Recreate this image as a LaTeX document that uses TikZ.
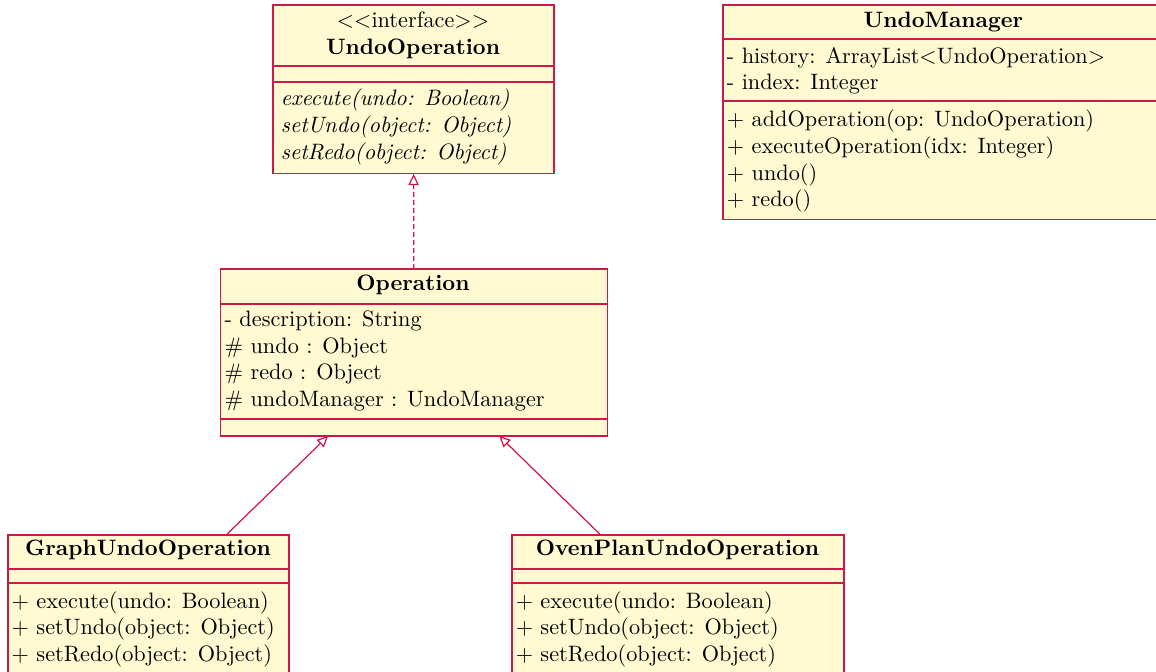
\documentclass[tikz,border=0pt]{standalone}
\usetikzlibrary{arrows.meta}
\definecolor{umlline}{RGB}{206,24,74}
\definecolor{umlfill}{RGB}{255,250,210}
\def\upx{0.449pt}
\begin{document}
\begin{tikzpicture}[x=0.449pt,y=-0.449pt,
  classbox/.style={fill=umlfill,inner sep=0pt,anchor=north west},
  outline/.style={draw=umlline,line width=0.55pt},
  sep/.style={draw=umlline,line width=0.55pt},
  ctitle/.style={anchor=base,inner sep=0pt,font=\bfseries},
  stereo/.style={anchor=base,inner sep=0pt},
  item/.style={anchor=base west,inner sep=0pt},
  aitem/.style={anchor=base west,inner sep=0pt,font=\itshape},
  opentip/.style={-{Triangle[open,length=5pt,width=4.6pt,fill=white]}},
  realize/.style={draw=umlline,line width=0.55pt,dash pattern=on 2.2pt off 1.4pt,opentip},
  inherit/.style={draw=umlline,line width=0.55pt,opentip}]
\useasboundingbox (0,0) rectangle (1156,672);
\clip (0,0) rectangle (1156,672);

% ---- class boxes ----
\node[classbox,minimum width=280*\upx,minimum height=168*\upx] (iface) at (273,5) {};
\node[classbox,minimum width=386*\upx,minimum height=166*\upx] (oper) at (220.5,269) {};
\node[classbox,minimum width=441*\upx,minimum height=214*\upx] (mgr) at (723,5) {};
\node[classbox,minimum width=280*\upx,minimum height=150*\upx] (graph) at (8,535) {};
\node[classbox,minimum width=331*\upx,minimum height=150*\upx] (oven) at (512,535) {};

% ---- outlines and compartment separators ----
\foreach \n/\a/\b in {iface/66/82, oper/304/419, mgr/39/101, graph/569/583, oven/569/583}{
  \draw[outline] (\n.north west) rectangle (\n.south east);
  \draw[sep] (\n.west |- 0,\a) -- (\n.east |- 0,\a);
  \draw[sep] (\n.west |- 0,\b) -- (\n.east |- 0,\b);
}

% ---- UndoOperation (interface) ----
\node[stereo] (iface-st) at (413,28) {$<<$interface$>>$};
\node[ctitle] (iface-t) at (413,55) {UndoOperation};
\node[aitem] (iface-m1) at (280.5,106) {execute(undo: Boolean)};
\node[aitem] (iface-m2) at (280.5,132.7) {setUndo(object: Object)};
\node[aitem] (iface-m3) at (280.5,159.4) {setRedo(object: Object)};

% ---- Operation ----
\node[ctitle] (oper-t) at (413,291) {Operation};
\node[item] (oper-a1) at (224.2,326.7) {- description: String};
\node[item] (oper-a2) at (224.2,353.4) {\# undo : Object};
\node[item] (oper-a3) at (224.2,380) {\# redo : Object};
\node[item] (oper-a4) at (224.2,406.7) {\# undoManager : UndoManager};

% ---- UndoManager ----
\node[ctitle] (mgr-t) at (943.5,28) {UndoManager};
\node[item] (mgr-a1) at (726.5,63.5) {- history: ArrayList$<$UndoOperation$>$};
\node[item] (mgr-a2) at (726.5,90) {- index: Integer};
\node[item] (mgr-m1) at (726.5,127) {+ addOperation(op: UndoOperation)};
\node[item] (mgr-m2) at (726.5,153.7) {+ executeOperation(idx: Integer)};
\node[item] (mgr-m3) at (726.5,180.4) {+ undo()};
\node[item] (mgr-m4) at (726.5,207) {+ redo()};

% ---- GraphUndoOperation ----
\node[ctitle] (graph-t) at (148,556) {GraphUndoOperation};
\node[item] (graph-m1) at (11.3,608) {+ execute(undo: Boolean)};
\node[item] (graph-m2) at (11.3,634.7) {+ setUndo(object: Object)};
\node[item] (graph-m3) at (11.3,661.4) {+ setRedo(object: Object)};

% ---- OvenPlanUndoOperation ----
\node[ctitle] (oven-t) at (677.5,556) {OvenPlanUndoOperation};
\node[item] (oven-m1) at (515.3,608) {+ execute(undo: Boolean)};
\node[item] (oven-m2) at (515.3,634.7) {+ setUndo(object: Object)};
\node[item] (oven-m3) at (515.3,661.4) {+ setRedo(object: Object)};

% ---- relations ----
\draw[realize] (oper) -- (iface);
\draw[inherit] (graph) -- (oper);
\draw[inherit] (oven) -- (oper);
\end{tikzpicture}
\end{document}
